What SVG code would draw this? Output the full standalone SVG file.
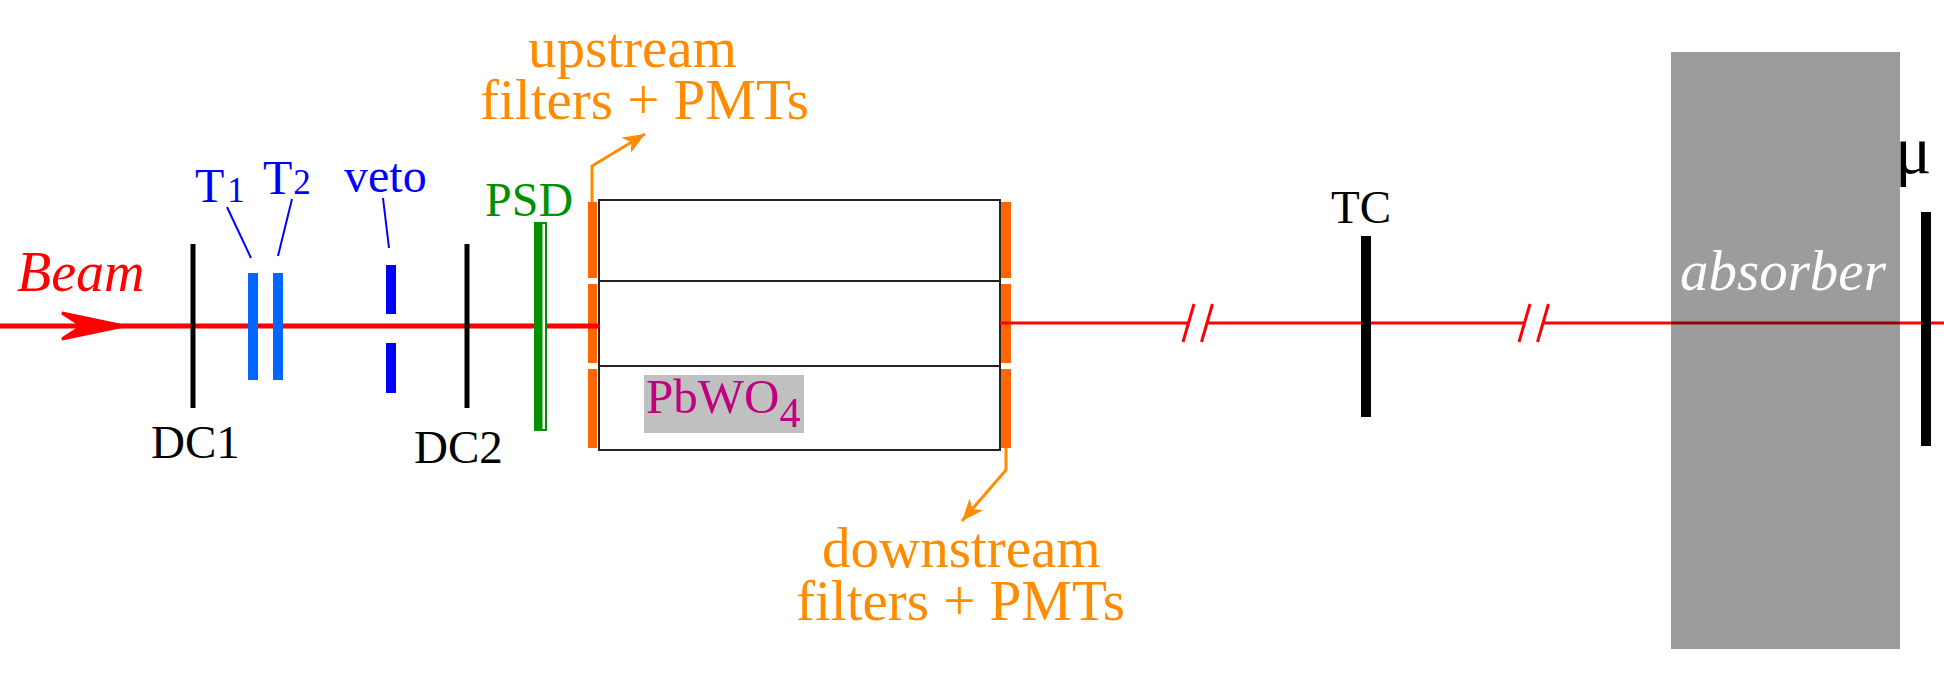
<svg xmlns="http://www.w3.org/2000/svg" width="1944" height="699" viewBox="0 0 1944 699" font-family="Liberation Serif, DejaVu Serif, serif">
<style>
text{font-family:'Liberation Serif','DejaVu Serif',serif}
.dc{stroke:#000;stroke-width:5}
.thick{stroke:#000;stroke-width:10}
.tbar{stroke:#0066ff;stroke-width:10}
.vbar{stroke:#0000ff;stroke-width:10}
.lead{stroke:#0000ff;stroke-width:2;fill:none}
.blue{fill:#0000ff;font-size:48px}
.orng{fill:#ff8c00;font-size:57px}
.pmt{fill:#ff6600}
.oarr{stroke:#ff8c00;stroke-width:3;fill:none;marker-end:url(#ah)}
.blk{fill:#000;font-size:47px}
</style>
<defs>
<marker id="ah" markerUnits="userSpaceOnUse" markerWidth="26" markerHeight="22" refX="22" refY="9" orient="auto">
<path d="M0,0 L22,9 L0,18 L6,9 z" fill="#ff8c00"/>
</marker>
</defs>
<rect width="1944" height="699" fill="#fff"/>

<g id="crystals">
<rect x="599" y="200" width="401" height="250" fill="#fff" stroke="#222" stroke-width="2"/>
<line x1="599" y1="281" x2="1000" y2="281" stroke="#222" stroke-width="2"/>
<line x1="599" y1="366" x2="1000" y2="366" stroke="#222" stroke-width="2"/>
<rect x="644" y="375" width="160" height="58" fill="#c0c0c0"/>
<text x="646" y="413" font-size="49" fill="#c0007f">PbWO<tspan font-size="42" dy="14">4</tspan></text>
</g>

<g id="pmts">
<rect class="pmt" x="588" y="202" width="9" height="76"/>
<rect class="pmt" x="588" y="284" width="9" height="79"/>
<rect class="pmt" x="588" y="369" width="9" height="79"/>
<rect class="pmt" x="1001" y="202" width="10" height="76"/>
<rect class="pmt" x="1001" y="284" width="10" height="79"/>
<rect class="pmt" x="1001" y="369" width="10" height="79"/>
</g>

<g id="beamline">
<line x1="0" y1="326" x2="599" y2="326" stroke="#ff0000" stroke-width="5"/>
<polygon points="62,313 124,326 62,339 82,326" fill="#ff0000" stroke="#ff0000" stroke-width="3" stroke-linejoin="miter"/>
<line x1="1000" y1="323" x2="1189" y2="323" stroke="#ff0000" stroke-width="3"/>
<line x1="1207" y1="323" x2="1525" y2="323" stroke="#ff0000" stroke-width="3"/>
<line x1="1543" y1="323" x2="1944" y2="323" stroke="#ff0000" stroke-width="3"/>
<line x1="1183" y1="342" x2="1194" y2="304" stroke="#ff0000" stroke-width="3"/>
<line x1="1201.5" y1="342" x2="1212.5" y2="304" stroke="#ff0000" stroke-width="3"/>
<line x1="1519" y1="342" x2="1530" y2="304" stroke="#ff0000" stroke-width="3"/>
<line x1="1537.5" y1="342" x2="1548.5" y2="304" stroke="#ff0000" stroke-width="3"/>
<text x="17" y="291" font-size="56" font-style="italic" fill="#ff0000">Beam</text>
</g>

<g id="dc1">
<line class="dc" x1="193" y1="244" x2="193" y2="408"/>
<text class="blk" x="151" y="458">DC1</text>
</g>

<g id="t1">
<line class="tbar" x1="253" y1="273" x2="253" y2="380"/>
<line class="lead" x1="227" y1="207" x2="251" y2="258"/>
<text class="blue" x="195" y="202">T<tspan font-size="35" dx="3">1</tspan></text>
</g>

<g id="t2">
<line class="tbar" x1="278" y1="273" x2="278" y2="380"/>
<line class="lead" x1="292" y1="199" x2="278" y2="256"/>
<text class="blue" x="263" y="194">T<tspan font-size="35" dx="1">2</tspan></text>
</g>

<g id="veto">
<line class="vbar" x1="391" y1="265" x2="391" y2="314"/>
<line class="vbar" x1="391" y1="343" x2="391" y2="393"/>
<line class="lead" x1="383" y1="198" x2="389" y2="248"/>
<text class="blue" x="344" y="192">veto</text>
</g>

<g id="dc2">
<line class="dc" x1="467" y1="244" x2="467" y2="408"/>
<text class="blk" x="414" y="463">DC2</text>
</g>

<g id="psd">
<rect x="534" y="222" width="13" height="209" fill="#009000"/>
<rect x="542.5" y="224" width="2.5" height="205" fill="#fff"/>
<text x="485" y="216" font-size="48" fill="#009000">PSD</text>
</g>

<g id="tc">
<line class="thick" x1="1366" y1="236" x2="1366" y2="417"/>
<text class="blk" x="1331" y="223">TC</text>
</g>

<g id="absorber">
<rect x="1671" y="52" width="229" height="597" fill="#000" fill-opacity="0.39"/>
<text x="1680" y="290" font-size="57" font-style="italic" fill="#fff">absorber</text>
</g>

<g id="muon">
<line class="thick" x1="1926" y1="212" x2="1926" y2="446"/>
<text x="1895" y="173" font-size="68" fill="#000">μ</text>
</g>

<g id="labels">
<text class="orng" x="528" y="67">upstream</text>
<text class="orng" x="480" y="119">filters + PMTs</text>
<text class="orng" x="822" y="567">downstream</text>
<text class="orng" x="796" y="620">filters + PMTs</text>
</g>

<g id="connectors">
<path class="oarr" d="M592,202 L592,166 L645,134"/>
<path class="oarr" d="M1006,448 L1006,470 L962,521"/>
</g>
</svg>
